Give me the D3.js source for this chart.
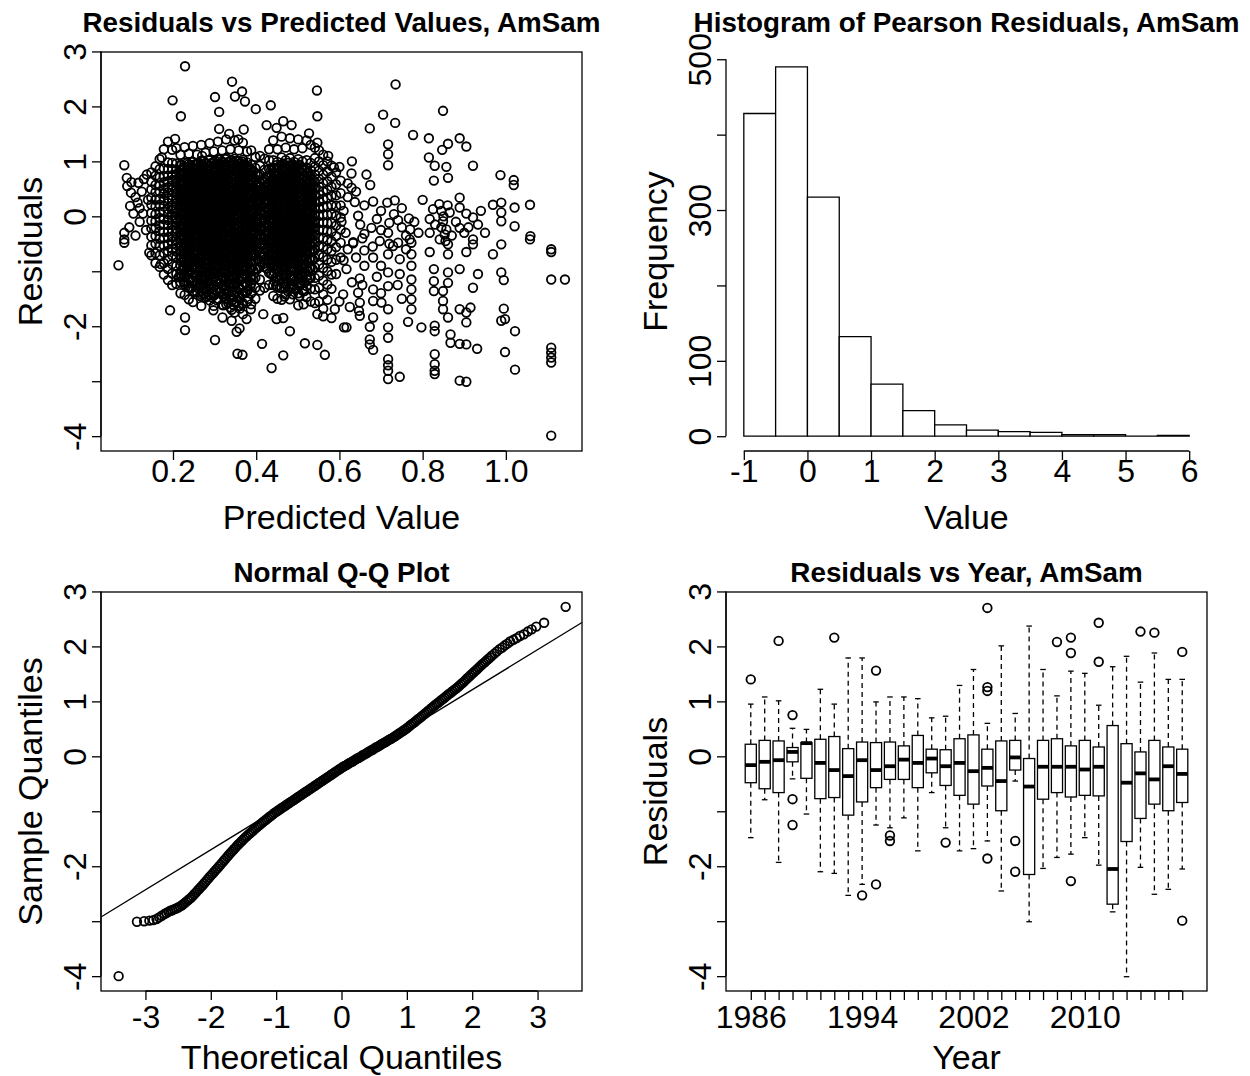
<!DOCTYPE html>
<html><head><meta charset="utf-8">
<script src="https://cdn.jsdelivr.net/npm/d3@7"></script>
<style>body{margin:0;background:#fff}</style>
</head><body>
<svg id="c" width="1250" height="1076" xmlns="http://www.w3.org/2000/svg"></svg>
<script>
// ---------------- DATA ----------------
const residTicks = [-4,-3,-2,-1,0,1,2,3];
const residTickLabels = ["-4","","-2","","0","1","2","3"];
// Panel 1: predicted value vs residual
const predTicks = [0.2,0.4,0.6,0.8,1.0];
const predTickLabels = ["0.2","0.4","0.6","0.8","1.0"];
const sparsePoints = [
[0.229,2.73],[0.342,2.45],[0.199,2.11],[0.301,2.17],[0.349,2.18],[0.366,2.27],[0.373,2.09],[0.399,1.95],[0.435,2.02],[0.546,2.29],[0.547,1.82],[0.219,1.82],[0.311,1.90],[0.311,1.59],[0.335,1.50],[0.370,1.58],[0.357,1.40],[0.425,1.66],[0.449,1.61],[0.465,1.73],[0.485,1.66],[0.527,1.51],[0.547,1.34],[0.205,1.41],[0.083,0.93],[0.089,0.70],[0.099,0.43],[0.097,0.19],[0.083,-0.30],[0.083,-0.42],[0.137,0.76],[0.117,0.61],[0.173,1.07],[0.573,1.10],[0.587,0.89],[0.270,1.10],
[0.069,-0.89],[0.083,-0.48],[0.143,-0.66],[0.171,-0.87],[0.193,-1.71],[0.229,-1.84],[0.229,-2.07],[0.301,-2.25],[0.355,-2.50],[0.367,-2.52],[0.437,-2.76],[0.414,-2.32],[0.465,-2.53],[0.481,-2.09],[0.517,-2.31],[0.547,-2.34],[0.565,-2.52],[0.353,-2.10],[0.360,-2.04],[0.341,-1.90],[0.319,-1.84],[0.297,-1.71],[0.377,-1.87],[0.387,-1.69],[0.417,-1.78],[0.449,-1.87],[0.465,-1.85],[0.514,-1.60],[0.547,-1.78],[0.561,-1.82],[0.581,-1.85],[0.589,-1.69],[0.611,-2.02],[0.281,-1.46],[0.245,-1.30],[0.229,-1.21],[0.213,-1.11],[0.263,-1.27],
[0.09,0.55],[0.10,0.62],[0.11,0.35],[0.095,-0.2],[0.105,0.05],[0.115,0.25],[0.12,-0.1],[0.125,0.45],[0.11,-0.35],[0.13,0.68],[0.128,0.05],[0.135,-0.25],[0.14,0.3],[0.12,0.15],
[0.735,2.40],[0.705,1.85],[0.734,1.70],[0.673,1.60],[0.849,1.92],[0.777,1.48],[0.815,1.42],[0.717,1.31],[0.717,1.13],[0.717,0.93],[0.861,1.32],[0.847,1.21],[0.889,1.42],[0.905,1.27],[0.815,1.07],[0.829,0.92],[0.857,0.90],[0.921,0.92],[0.861,0.70],[0.827,0.65],[0.987,0.75],[1.019,0.66],[1.019,0.57],[1.058,0.21],[0.629,0.78],[0.629,0.52],[0.637,0.26],[0.665,0.76],[0.674,0.57],[0.681,0.27],[0.715,0.25],[0.733,0.29],[0.605,-0.10],[0.645,0.01],[0.677,-0.21],[0.717,-0.30],[0.731,0.04],[0.741,-0.07],[0.767,-0.04],[0.770,-0.24],[0.825,0.13],[0.845,0.10],[0.849,-0.09],[0.817,-0.05],[0.865,0.07],[0.889,0.34],[0.889,0.16],[0.889,-0.21],[0.921,-0.02],[0.933,-0.15],[0.969,0.21],[0.989,0.25],[0.989,0.07],[0.989,-0.09],[1.021,0.16],[1.021,-0.18],[1.059,-0.36],[1.109,-0.60],[0.633,-0.47],[0.697,-0.45],[0.741,-0.48],[0.769,-0.42],[0.817,-0.30],[0.841,-0.42],[0.857,-0.24],[0.921,-0.42],
[0.65,-0.15],[0.66,-0.32],[0.69,-0.05],[0.70,-0.25],[0.655,-0.4],[0.72,-0.12],[0.75,-0.2],[0.76,-0.35],[0.78,-0.1],[0.845,-0.2],[0.85,0.0],[0.853,-0.33],[0.855,-0.45],[0.86,0.2],[0.84,0.22],[0.83,-0.15],[0.87,-0.35],[0.88,-0.1],[0.90,-0.3],[0.905,0.05],[0.91,-0.2],[0.94,0.1],[0.95,-0.3],[0.62,0.35],[0.61,0.1],[0.615,-0.3],[0.64,0.45],[0.66,0.2],[0.70,0.1],[0.75,0.15],[0.80,0.3],[0.79,-0.3],[0.63,1.0],[0.62,0.6],[0.60,0.9],
[0.633,-0.49],[0.681,-0.75],[0.617,-0.96],[0.649,-1.13],[0.717,-0.69],[0.717,-1.02],[0.717,-1.27],[0.681,-1.33],[0.645,-1.39],[0.649,-1.57],[0.681,-1.54],[0.701,-1.57],[0.717,-1.69],[0.649,-1.81],[0.681,-1.84],[0.617,-2.02],[0.673,-2.01],[0.717,-2.02],[0.717,-2.21],[0.673,-2.33],[0.681,-2.43],[0.717,-2.60],[0.717,-2.71],[0.717,-2.81],[0.717,-2.96],[0.745,-2.92],[0.773,-0.48],[0.773,-0.69],[0.773,-0.90],[0.773,-1.15],[0.773,-1.33],[0.773,-1.51],[0.773,-1.69],[0.765,-1.92],[0.797,-2.02],[0.817,-0.65],[0.827,-0.96],[0.827,-1.18],[0.827,-1.36],[0.829,-1.99],[0.829,-2.09],[0.829,-2.51],[0.829,-2.69],[0.829,-2.81],[0.829,-2.87],[0.849,-1.36],[0.849,-1.54],[0.849,-1.69],[0.861,-1.02],[0.861,-1.21],[0.861,-1.84],[0.861,-0.51],[0.889,-0.96],[0.889,-1.69],[0.905,-1.75],[0.905,-1.93],[0.915,-1.66],[0.867,-2.15],[0.867,-2.30],[0.889,-2.32],[0.905,-2.33],[0.931,-2.41],[0.889,-2.99],[0.905,-3.01],[0.921,-1.30],[0.905,-0.65],[0.933,-1.05],[0.969,-0.69],[0.989,-0.51],[0.989,-1.02],[0.995,-1.16],[0.995,-1.68],[0.989,-1.90],[0.998,-1.87],[1.022,-2.09],[0.998,-2.47],[1.022,-2.79],[1.109,-0.65],[1.109,-1.15],[1.142,-1.15],[1.109,-2.39],[1.109,-2.48],[1.109,-2.57],[1.109,-2.66],[1.109,-3.99],[1.058,-0.42],[0.609,-1.42],[0.647,-1.72],[0.673,-2.24],[0.745,-1.05],[0.745,-0.78],[0.729,-0.54],[0.861,-0.69],[0.921,-0.51],
[0.62,-0.6],[0.64,-0.75],[0.66,-0.9],[0.63,-1.2],[0.61,-0.8],[0.69,-1.1],[0.70,-0.9],[0.72,-0.5],[0.68,-0.55],[0.60,-1.55],[0.625,-1.65],[0.655,-1.25],[0.66,-0.62],[0.70,-1.4],[0.74,-1.25],[0.75,-1.5],[0.76,-0.6]
];
// dense part of the cloud, estimated column by column: [predicted, [residuals]]
const denseColumns = [
[0.148,[0.80,0.63,0.49,0.34,0.21,0.06,-0.08,-0.22,-0.37,-0.53,-0.71]],
[0.158,[0.91,0.74,0.57,0.44,0.30,0.18,0.04,-0.09,-0.21,-0.36,-0.50,-0.67,-0.85]],
[0.168,[1.04,0.86,0.71,0.56,0.45,0.32,0.21,0.08,-0.03,-0.16,-0.27,-0.41,-0.54,-0.71,-0.92]],
[0.178,[1.22,0.87,0.73,0.62,0.50,0.41,0.29,0.18,0.08,-0.05,-0.15,-0.28,-0.39,-0.53,-0.67,-0.85,-1.06]],
[0.188,[1.36,0.98,0.86,0.74,0.64,0.53,0.44,0.33,0.24,0.13,0.04,-0.07,-0.16,-0.28,-0.38,-0.51,-0.63,-0.79,-0.96,-1.16]],
[0.198,[1.21,0.97,0.86,0.75,0.66,0.56,0.48,0.38,0.30,0.20,0.12,0.02,-0.06,-0.16,-0.25,-0.36,-0.46,-0.59,-0.71,-0.87,-1.04,-1.25]],
[0.208,[1.24,0.96,0.85,0.77,0.67,0.59,0.49,0.41,0.31,0.23,0.13,0.05,-0.05,-0.13,-0.23,-0.31,-0.42,-0.52,-0.64,-0.75,-0.90,-1.05,-1.23]],
[0.218,[1.12,0.93,0.84,0.74,0.66,0.56,0.48,0.38,0.30,0.20,0.12,0.02,-0.06,-0.16,-0.24,-0.34,-0.43,-0.54,-0.64,-0.77,-0.89,-1.05,-1.20,-1.40]],
[0.228,[1.26,0.98,0.87,0.79,0.69,0.61,0.51,0.43,0.33,0.25,0.15,0.07,-0.03,-0.11,-0.21,-0.29,-0.39,-0.48,-0.59,-0.69,-0.82,-0.94,-1.09,-1.24,-1.43]],
[0.238,[1.14,0.95,0.84,0.76,0.66,0.58,0.48,0.40,0.30,0.22,0.12,0.04,-0.06,-0.14,-0.24,-0.32,-0.42,-0.51,-0.62,-0.72,-0.85,-0.97,-1.13,-1.30,-1.51]],
[0.248,[1.28,0.99,0.88,0.80,0.70,0.62,0.52,0.44,0.34,0.26,0.16,0.08,-0.02,-0.10,-0.20,-0.28,-0.38,-0.46,-0.57,-0.66,-0.78,-0.89,-1.03,-1.17,-1.36,-1.56]],
[0.258,[1.12,0.94,0.84,0.76,0.66,0.58,0.48,0.40,0.30,0.22,0.12,0.04,-0.06,-0.14,-0.24,-0.32,-0.42,-0.50,-0.61,-0.70,-0.82,-0.93,-1.07,-1.21,-1.38]],
[0.268,[1.30,1.01,0.90,0.82,0.72,0.64,0.54,0.46,0.36,0.28,0.18,0.10,0.00,-0.08,-0.18,-0.26,-0.36,-0.44,-0.54,-0.63,-0.74,-0.84,-0.97,-1.09,-1.25,-1.42,-1.63]],
[0.278,[1.16,0.97,0.86,0.78,0.68,0.60,0.50,0.42,0.32,0.24,0.14,0.06,-0.04,-0.12,-0.22,-0.30,-0.40,-0.48,-0.58,-0.67,-0.78,-0.88,-1.01,-1.13,-1.29,-1.48]],
[0.288,[1.33,1.02,0.92,0.83,0.74,0.65,0.56,0.47,0.38,0.29,0.20,0.11,0.02,-0.07,-0.16,-0.25,-0.34,-0.43,-0.52,-0.61,-0.71,-0.81,-0.93,-1.04,-1.18,-1.32,-1.53]],
[0.298,[1.18,0.99,0.88,0.80,0.70,0.62,0.52,0.44,0.34,0.26,0.16,0.08,-0.02,-0.10,-0.20,-0.28,-0.38,-0.46,-0.56,-0.65,-0.76,-0.86,-0.99,-1.11,-1.27,-1.44,-1.63]],
[0.308,[1.36,1.04,0.94,0.84,0.76,0.66,0.58,0.48,0.40,0.30,0.22,0.12,0.04,-0.06,-0.14,-0.24,-0.32,-0.42,-0.50,-0.60,-0.69,-0.80,-0.90,-1.03,-1.15,-1.31,-1.50]],
[0.318,[1.20,1.00,0.89,0.81,0.71,0.63,0.53,0.45,0.35,0.27,0.17,0.09,-0.01,-0.09,-0.19,-0.27,-0.37,-0.45,-0.55,-0.64,-0.75,-0.85,-0.98,-1.10,-1.26,-1.42,-1.61]],
[0.328,[1.40,1.06,0.95,0.86,0.77,0.68,0.59,0.50,0.41,0.32,0.23,0.14,0.05,-0.04,-0.13,-0.22,-0.31,-0.40,-0.49,-0.58,-0.67,-0.77,-0.87,-0.99,-1.11,-1.25,-1.41,-1.60]],
[0.338,[1.22,1.01,0.91,0.82,0.72,0.64,0.54,0.46,0.36,0.28,0.18,0.10,0.00,-0.08,-0.18,-0.26,-0.36,-0.44,-0.54,-0.62,-0.72,-0.81,-0.92,-1.02,-1.15,-1.29,-1.46,-1.66]],
[0.348,[1.38,1.05,0.94,0.85,0.75,0.67,0.57,0.49,0.39,0.31,0.21,0.13,0.03,-0.05,-0.15,-0.23,-0.33,-0.41,-0.51,-0.59,-0.69,-0.78,-0.89,-0.99,-1.11,-1.23,-1.38,-1.56,-1.75]],
[0.358,[1.20,1.00,0.90,0.81,0.71,0.63,0.53,0.45,0.35,0.27,0.17,0.09,-0.01,-0.09,-0.19,-0.27,-0.37,-0.45,-0.55,-0.63,-0.73,-0.82,-0.93,-1.04,-1.16,-1.30,-1.46,-1.63]],
[0.368,[1.34,1.03,0.93,0.84,0.74,0.66,0.56,0.48,0.38,0.30,0.20,0.12,0.02,-0.06,-0.16,-0.24,-0.34,-0.42,-0.52,-0.60,-0.70,-0.79,-0.90,-1.00,-1.12,-1.25,-1.40,-1.58,-1.78]],
[0.378,[1.18,0.98,0.88,0.79,0.69,0.61,0.51,0.43,0.33,0.25,0.15,0.07,-0.03,-0.11,-0.21,-0.29,-0.39,-0.47,-0.57,-0.66,-0.76,-0.86,-0.97,-1.09,-1.22,-1.37,-1.55]],
[0.388,[1.20,0.94,0.84,0.75,0.65,0.57,0.47,0.39,0.29,0.21,0.11,0.03,-0.07,-0.15,-0.25,-0.33,-0.43,-0.52,-0.62,-0.72,-0.83,-0.95,-1.08,-1.22,-1.40,-1.60]],
[0.398,[1.08,0.88,0.77,0.67,0.57,0.48,0.38,0.29,0.19,0.10,0.00,-0.09,-0.19,-0.28,-0.38,-0.48,-0.59,-0.70,-0.82,-0.96,-1.12,-1.30,-1.50]],
[0.409,[1.10,0.92,0.76,0.60,0.45,0.31,0.17,0.03,-0.11,-0.25,-0.40,-0.56,-0.73,-0.92,-1.15,-1.35]],
[0.420,[1.05,0.85,0.68,0.52,0.37,0.22,0.08,-0.06,-0.20,-0.35,-0.51,-0.68,-0.86,-1.30]],
[0.431,[1.22,1.02,0.86,0.72,0.60,0.48,0.37,0.26,0.15,0.04,-0.07,-0.18,-0.30,-0.42,-0.55,-0.69,-0.85,-1.03,-1.25]],
[0.441,[1.38,1.02,0.89,0.79,0.69,0.60,0.50,0.42,0.32,0.24,0.14,0.06,-0.04,-0.12,-0.22,-0.30,-0.40,-0.49,-0.59,-0.69,-0.81,-0.93,-1.08,-1.25,-1.45]],
[0.451,[1.22,0.99,0.88,0.78,0.68,0.59,0.49,0.41,0.31,0.23,0.13,0.05,-0.05,-0.13,-0.23,-0.31,-0.41,-0.50,-0.60,-0.70,-0.82,-0.95,-1.10,-1.28,-1.50]],
[0.461,[1.45,1.07,0.94,0.83,0.73,0.64,0.54,0.46,0.36,0.28,0.18,0.10,0.00,-0.08,-0.18,-0.26,-0.36,-0.44,-0.54,-0.63,-0.74,-0.85,-0.98,-1.12,-1.30,-1.52]],
[0.471,[1.25,1.02,0.90,0.80,0.70,0.61,0.51,0.43,0.33,0.25,0.15,0.07,-0.03,-0.11,-0.21,-0.29,-0.39,-0.48,-0.58,-0.68,-0.80,-0.92,-1.06,-1.22,-1.42]],
[0.481,[1.42,1.06,0.93,0.82,0.72,0.63,0.53,0.45,0.35,0.27,0.17,0.09,-0.01,-0.09,-0.19,-0.27,-0.37,-0.45,-0.55,-0.64,-0.75,-0.86,-0.99,-1.13,-1.31,-1.51]],
[0.491,[1.22,0.99,0.88,0.78,0.68,0.59,0.49,0.41,0.31,0.23,0.13,0.05,-0.05,-0.13,-0.23,-0.31,-0.41,-0.50,-0.60,-0.71,-0.83,-0.97,-1.13,-1.32]],
[0.501,[1.40,1.04,0.92,0.81,0.71,0.62,0.52,0.44,0.34,0.26,0.16,0.08,-0.02,-0.10,-0.20,-0.28,-0.38,-0.47,-0.57,-0.67,-0.79,-0.91,-1.05,-1.21,-1.40,-1.62]],
[0.511,[1.24,1.00,0.88,0.78,0.68,0.58,0.49,0.40,0.31,0.22,0.13,0.04,-0.05,-0.14,-0.23,-0.32,-0.42,-0.52,-0.63,-0.74,-0.87,-1.01,-1.17,-1.35]],
[0.521,[1.38,1.02,0.89,0.78,0.67,0.57,0.47,0.37,0.27,0.17,0.07,-0.03,-0.13,-0.23,-0.33,-0.43,-0.54,-0.66,-0.79,-0.93,-1.09,-1.27,-1.47]],
[0.531,[1.30,0.97,0.84,0.72,0.61,0.50,0.39,0.28,0.17,0.06,-0.05,-0.16,-0.27,-0.39,-0.51,-0.64,-0.78,-0.94,-1.12,-1.32,-1.55]],
[0.541,[1.25,1.06,0.90,0.76,0.63,0.51,0.39,0.27,0.15,0.03,-0.09,-0.21,-0.34,-0.47,-0.61,-0.76,-0.93,-1.12,-1.33,-1.58]],
[0.551,[1.20,1.00,0.83,0.68,0.54,0.40,0.27,0.14,0.01,-0.12,-0.25,-0.39,-0.54,-0.70,-0.88,-1.08,-1.30,-1.55]],
[0.561,[1.12,0.93,0.76,0.60,0.45,0.31,0.17,0.03,-0.11,-0.25,-0.40,-0.56,-0.74,-0.94,-1.17,-1.42,-1.68]],
[0.571,[1.00,0.82,0.64,0.48,0.33,0.18,0.03,-0.12,-0.27,-0.43,-0.60,-0.79,-1.00,-1.24,-1.52]],
[0.581,[0.92,0.72,0.54,0.37,0.20,0.04,-0.12,-0.28,-0.45,-0.63,-0.83,-1.06,-1.32]],
[0.592,[0.80,0.58,0.38,0.19,0.01,-0.17,-0.36,-0.56,-0.79,-1.05]],
[0.603,[0.65,0.42,0.20,-0.02,-0.24,-0.48,-0.75]]
];
// the two solid-black cores, estimated between the columns above
const coreColumns = [
[0.221,[0.94,0.83,0.76,0.64,0.57,0.45,0.37,0.26,0.18,0.06,-0.02,-0.13,-0.21,-0.33,-0.40,-0.52,-0.61,-0.74,-0.83,-0.98,-1.10]],
[0.226,[0.90,0.79,0.70,0.60,0.49,0.41,0.30,0.22,0.10,0.02,-0.09,-0.17,-0.28,-0.36,-0.47,-0.56,-0.67,-0.78,-0.91,-1.04,-1.19]],
[0.234,[0.97,0.86,0.79,0.67,0.60,0.48,0.40,0.29,0.21,0.09,0.01,-0.11,-0.18,-0.30,-0.37,-0.49,-0.57,-0.70,-0.79,-0.93,-1.05,-1.22]],
[0.241,[0.92,0.81,0.72,0.63,0.52,0.43,0.33,0.24,0.13,0.04,-0.07,-0.15,-0.26,-0.34,-0.45,-0.53,-0.64,-0.75,-0.87,-1.00,-1.16,-1.30]],
[0.246,[0.99,0.88,0.80,0.69,0.61,0.50,0.42,0.31,0.23,0.12,0.03,-0.08,-0.16,-0.27,-0.35,-0.46,-0.55,-0.66,-0.77,-0.90,-1.03,-1.19]],
[0.253,[0.95,0.84,0.75,0.66,0.55,0.46,0.36,0.27,0.16,0.07,-0.04,-0.12,-0.23,-0.31,-0.42,-0.50,-0.61,-0.71,-0.83,-0.95,-1.09,-1.25,-1.38]],
[0.261,[0.98,0.87,0.78,0.70,0.59,0.51,0.40,0.32,0.21,0.13,0.01,-0.07,-0.18,-0.26,-0.37,-0.45,-0.56,-0.64,-0.76,-0.87,-1.01,-1.15,-1.31]],
[0.266,[0.93,0.82,0.73,0.62,0.54,0.44,0.35,0.25,0.15,0.06,-0.05,-0.13,-0.24,-0.32,-0.43,-0.51,-0.62,-0.72,-0.84,-0.97,-1.11,-1.27,-1.45]],
[0.273,[1.00,0.89,0.81,0.71,0.62,0.52,0.43,0.34,0.24,0.15,0.04,-0.04,-0.15,-0.23,-0.34,-0.42,-0.53,-0.61,-0.73,-0.84,-0.97,-1.10,-1.24,-1.40]],
[0.281,[0.96,0.85,0.76,0.65,0.57,0.47,0.38,0.28,0.19,0.08,0.00,-0.11,-0.19,-0.30,-0.38,-0.49,-0.57,-0.68,-0.79,-0.92,-1.06,-1.21,-1.37]],
[0.286,[1.02,0.91,0.82,0.72,0.64,0.53,0.45,0.35,0.26,0.16,0.07,-0.03,-0.12,-0.22,-0.31,-0.41,-0.50,-0.60,-0.70,-0.82,-0.95,-1.08,-1.25,-1.43]],
[0.293,[0.97,0.86,0.77,0.68,0.58,0.49,0.39,0.30,0.20,0.11,0.01,-0.08,-0.18,-0.27,-0.37,-0.46,-0.56,-0.65,-0.76,-0.87,-1.00,-1.14,-1.30,-1.47]],
[0.301,[1.01,0.90,0.81,0.70,0.62,0.51,0.43,0.32,0.24,0.13,0.05,-0.06,-0.14,-0.25,-0.33,-0.44,-0.52,-0.63,-0.72,-0.84,-0.96,-1.10,-1.26,-1.42]],
[0.306,[0.95,0.84,0.74,0.65,0.55,0.46,0.36,0.27,0.17,0.08,-0.02,-0.11,-0.21,-0.30,-0.40,-0.49,-0.59,-0.68,-0.79,-0.91,-1.04,-1.19,-1.35,-1.53]],
[0.313,[1.03,0.92,0.83,0.73,0.64,0.54,0.45,0.35,0.26,0.16,0.07,-0.03,-0.12,-0.22,-0.31,-0.41,-0.50,-0.60,-0.69,-0.80,-0.92,-1.06,-1.21,-1.38]],
[0.321,[0.98,0.87,0.78,0.67,0.59,0.48,0.40,0.29,0.21,0.10,0.02,-0.09,-0.17,-0.28,-0.36,-0.47,-0.55,-0.66,-0.75,-0.87,-0.99,-1.13,-1.28,-1.45,-1.62]],
[0.326,[1.04,0.93,0.84,0.74,0.65,0.55,0.46,0.36,0.27,0.17,0.08,-0.02,-0.11,-0.21,-0.30,-0.40,-0.49,-0.59,-0.68,-0.79,-0.90,-1.03,-1.17,-1.33,-1.50]],
[0.333,[0.99,0.88,0.79,0.69,0.60,0.50,0.41,0.31,0.22,0.12,0.03,-0.07,-0.16,-0.26,-0.35,-0.45,-0.54,-0.64,-0.74,-0.85,-0.97,-1.10,-1.24,-1.40,-1.58]],
[0.341,[1.02,0.91,0.82,0.71,0.63,0.52,0.44,0.33,0.25,0.14,0.06,-0.05,-0.13,-0.24,-0.32,-0.43,-0.51,-0.62,-0.71,-0.82,-0.94,-1.07,-1.21,-1.36,-1.53,-1.70]],
[0.346,[0.97,0.86,0.76,0.67,0.57,0.48,0.38,0.29,0.19,0.10,0.00,-0.09,-0.19,-0.28,-0.38,-0.47,-0.57,-0.66,-0.76,-0.88,-1.00,-1.14,-1.29,-1.45,-1.62]],
[0.353,[1.01,0.90,0.81,0.71,0.62,0.52,0.43,0.33,0.24,0.14,0.05,-0.05,-0.14,-0.24,-0.33,-0.43,-0.52,-0.62,-0.71,-0.82,-0.94,-1.07,-1.21,-1.37,-1.55]],
[0.361,[0.96,0.85,0.76,0.65,0.57,0.46,0.38,0.27,0.19,0.08,0.00,-0.11,-0.19,-0.30,-0.38,-0.49,-0.57,-0.68,-0.77,-0.89,-1.02,-1.16,-1.32,-1.49,-1.68]],
[0.366,[1.00,0.89,0.80,0.70,0.61,0.51,0.42,0.32,0.23,0.13,0.04,-0.06,-0.15,-0.25,-0.34,-0.44,-0.53,-0.63,-0.73,-0.84,-0.96,-1.09,-1.24,-1.41,-1.60]],
[0.373,[0.94,0.83,0.74,0.64,0.55,0.45,0.36,0.26,0.17,0.07,-0.02,-0.12,-0.21,-0.31,-0.40,-0.50,-0.59,-0.70,-0.81,-0.93,-1.07,-1.22,-1.39]],
[0.381,[0.91,0.80,0.71,0.60,0.52,0.41,0.33,0.22,0.14,0.03,-0.05,-0.16,-0.24,-0.35,-0.43,-0.54,-0.63,-0.75,-0.87,-1.01,-1.16,-1.33,-1.50]],
[0.386,[0.86,0.76,0.67,0.57,0.48,0.38,0.29,0.19,0.10,0.00,-0.09,-0.19,-0.28,-0.38,-0.47,-0.58,-0.69,-0.82,-0.96,-1.12,-1.28]],
[0.393,[0.82,0.71,0.62,0.52,0.43,0.33,0.24,0.14,0.05,-0.05,-0.14,-0.24,-0.33,-0.44,-0.55,-0.68,-0.82,-0.98,-1.15]],
[0.403,[0.74,0.60,0.48,0.36,0.24,0.12,0.01,-0.11,-0.23,-0.35,-0.48,-0.62,-0.78,-0.96]],
[0.409,[0.55,0.40,0.25,0.10,-0.05,-0.20,-0.35,-0.50,-0.66,-0.82]],
[0.414,[0.66,0.50,0.35,0.20,0.06,-0.08,-0.22,-0.37,-0.53,-0.70]],
[0.419,[0.62,0.45,0.30,0.16,0.02,-0.12,-0.27,-0.42,-0.58,-0.74,-0.92]],
[0.425,[0.72,0.57,0.42,0.28,0.14,0.00,-0.14,-0.28,-0.43,-0.59,-0.76,-0.95]],
[0.436,[0.85,0.73,0.62,0.51,0.40,0.30,0.19,0.09,-0.02,-0.12,-0.23,-0.34,-0.46,-0.58,-0.72,-0.88,-1.05]],
[0.444,[0.88,0.77,0.69,0.58,0.50,0.39,0.31,0.20,0.12,0.01,-0.07,-0.18,-0.26,-0.37,-0.45,-0.56,-0.65,-0.77,-0.88,-1.02,-1.18]],
[0.448,[0.93,0.83,0.73,0.64,0.54,0.45,0.35,0.26,0.16,0.07,-0.03,-0.12,-0.22,-0.31,-0.41,-0.50,-0.60,-0.71,-0.83,-0.96,-1.11,-1.27]],
[0.456,[0.90,0.79,0.70,0.60,0.51,0.41,0.32,0.22,0.13,0.03,-0.06,-0.16,-0.25,-0.35,-0.44,-0.54,-0.63,-0.74,-0.86,-0.99,-1.14,-1.30]],
[0.464,[0.96,0.85,0.76,0.65,0.57,0.46,0.38,0.27,0.19,0.08,0.00,-0.11,-0.19,-0.30,-0.38,-0.49,-0.57,-0.68,-0.79,-0.92,-1.06,-1.22]],
[0.468,[0.91,0.81,0.72,0.62,0.53,0.43,0.34,0.24,0.15,0.05,-0.04,-0.14,-0.23,-0.33,-0.42,-0.52,-0.61,-0.72,-0.84,-0.97,-1.12,-1.29,-1.46]],
[0.476,[0.97,0.86,0.77,0.67,0.58,0.48,0.39,0.29,0.20,0.10,0.01,-0.09,-0.18,-0.28,-0.37,-0.47,-0.56,-0.66,-0.77,-0.90,-1.04,-1.19,-1.36]],
[0.484,[0.92,0.81,0.72,0.61,0.53,0.42,0.34,0.23,0.15,0.04,-0.04,-0.15,-0.23,-0.34,-0.42,-0.53,-0.62,-0.73,-0.85,-0.98,-1.13,-1.29]],
[0.488,[0.95,0.85,0.75,0.66,0.56,0.47,0.37,0.28,0.18,0.09,-0.01,-0.10,-0.20,-0.29,-0.39,-0.48,-0.58,-0.69,-0.81,-0.94,-1.08,-1.24,-1.42]],
[0.496,[0.90,0.79,0.70,0.60,0.51,0.41,0.32,0.22,0.13,0.03,-0.06,-0.16,-0.25,-0.35,-0.44,-0.54,-0.64,-0.75,-0.87,-1.01,-1.16,-1.33]],
[0.504,[0.94,0.83,0.74,0.63,0.55,0.44,0.36,0.25,0.17,0.06,-0.02,-0.13,-0.21,-0.32,-0.40,-0.51,-0.60,-0.71,-0.83,-0.96,-1.11,-1.27,-1.45]],
[0.508,[0.88,0.78,0.68,0.59,0.49,0.40,0.30,0.21,0.11,0.02,-0.08,-0.17,-0.27,-0.36,-0.46,-0.56,-0.67,-0.79,-0.92,-1.07,-1.23]],
[0.516,[0.84,0.73,0.64,0.54,0.45,0.35,0.26,0.16,0.07,-0.03,-0.12,-0.22,-0.31,-0.41,-0.51,-0.62,-0.74,-0.87,-1.02,-1.18,-1.36]],
[0.524,[0.80,0.69,0.60,0.49,0.41,0.30,0.22,0.11,0.03,-0.08,-0.16,-0.27,-0.36,-0.47,-0.58,-0.70,-0.84,-0.99,-1.16]],
[0.528,[0.74,0.63,0.53,0.43,0.33,0.23,0.13,0.03,-0.07,-0.17,-0.27,-0.38,-0.50,-0.63,-0.78,-0.94,-1.12]],
[0.536,[0.66,0.54,0.43,0.32,0.21,0.10,-0.01,-0.12,-0.23,-0.35,-0.48,-0.62,-0.78,-0.96]]
];
// Panel 2: histogram of Pearson residuals
const histBreaks = [-1,-0.5,0,0.5,1,1.5,2,2.5,3,3.5,4,4.5,5,5.5,6];
const histCounts = [428,490,317,132,69,34,15,8,6,5,2,2,0,1];
const histXTicks = [-1,0,1,2,3,4,5,6];
const histYTicks = [0,100,200,300,400,500];
const histYTickLabels = ["0","100","","300","","500"];
// Panel 3: normal Q-Q plot (theoretical quantile, sample quantile)
const qqTicks = [-3,-2,-1,0,1,2,3];
const qqTheoretical = [-3.41,-3.13,-3.02,-2.94,-2.88,-2.83,-2.79,-2.75,-2.71,-2.68,-2.65,-2.62,-2.59,-2.56,-2.53,-2.50,-2.47,-2.44,-2.42,
-2.400,-2.375,-2.350,-2.325,-2.300,-2.275,-2.250,-2.225,-2.200,-2.175,-2.150,-2.125,-2.100,-2.075,-2.050,-2.025,-2.000,-1.975,-1.950,-1.925,-1.900,-1.875,-1.850,-1.825,-1.800,-1.775,-1.750,-1.725,-1.700,-1.675,-1.650,-1.625,-1.600,-1.575,-1.550,-1.525,-1.500,-1.475,-1.450,-1.425,-1.400,-1.375,-1.350,-1.325,-1.300,-1.275,-1.250,-1.225,-1.200,-1.175,-1.150,-1.125,-1.100,-1.075,-1.050,-1.025,-1.000,-0.975,-0.950,-0.925,-0.900,-0.875,-0.850,-0.825,-0.800,-0.775,-0.750,-0.725,-0.700,-0.675,-0.650,-0.625,-0.600,-0.575,-0.550,-0.525,-0.500,-0.475,-0.450,-0.425,-0.400,-0.375,-0.350,-0.325,-0.300,-0.275,-0.250,-0.225,-0.200,-0.175,-0.150,-0.125,-0.100,-0.075,-0.050,-0.025,0.000,0.025,0.050,0.075,0.100,0.125,0.150,0.175,0.200,0.225,0.250,0.275,0.300,0.325,0.350,0.375,0.400,0.425,0.450,0.475,0.500,0.525,0.550,0.575,0.600,0.625,0.650,0.675,0.700,0.725,0.750,0.775,0.800,0.825,0.850,0.875,0.900,0.925,0.950,0.975,1.000,1.025,1.050,1.075,1.100,1.125,1.150,1.175,1.200,1.225,1.250,1.275,1.300,1.325,1.350,1.375,1.400,1.425,1.450,1.475,1.500,1.525,1.550,1.575,1.600,1.625,1.650,1.675,1.700,1.725,1.750,1.775,1.800,1.825,1.850,1.875,1.900,1.925,1.950,1.975,2.000,2.025,2.050,2.075,2.100,2.125,2.150,2.175,2.200,2.225,2.250,2.275,2.300,
2.34,2.38,2.42,2.46,2.50,2.54,2.58,2.63,2.68,2.73,2.79,2.85,2.91,2.98,3.10,3.43];
const qqSample = [-4.00,-3.01,-3.00,-2.99,-2.98,-2.96,-2.93,-2.90,-2.87,-2.85,-2.83,-2.81,-2.80,-2.78,-2.77,-2.75,-2.73,-2.71,-2.69,
-2.67,-2.645,-2.62,-2.595,-2.57,-2.54,-2.505,-2.475,-2.44,-2.41,-2.375,-2.345,-2.31,-2.275,-2.24,-2.205,-2.17,-2.14,-2.105,-2.07,-2.04,-2.005,-1.97,-1.935,-1.90,-1.865,-1.83,-1.795,-1.76,-1.73,-1.695,-1.665,-1.63,-1.60,-1.57,-1.54,-1.51,-1.48,-1.455,-1.425,-1.40,-1.375,-1.35,-1.32,-1.295,-1.27,-1.245,-1.22,-1.195,-1.17,-1.15,-1.125,-1.10,-1.08,-1.055,-1.03,-1.01,-0.99,-0.97,-0.95,-0.93,-0.91,-0.89,-0.87,-0.85,-0.83,-0.81,-0.79,-0.77,-0.75,-0.73,-0.71,-0.69,-0.67,-0.65,-0.63,-0.61,-0.59,-0.57,-0.55,-0.53,-0.51,-0.49,-0.47,-0.45,-0.43,-0.41,-0.39,-0.37,-0.35,-0.33,-0.31,-0.29,-0.27,-0.25,-0.23,-0.21,-0.19,-0.175,-0.16,-0.14,-0.12,-0.105,-0.09,-0.07,-0.05,-0.035,-0.02,0.00,0.02,0.035,0.05,0.07,0.09,0.105,0.12,0.14,0.16,0.175,0.19,0.21,0.23,0.245,0.26,0.28,0.30,0.315,0.33,0.35,0.37,0.39,0.41,0.43,0.45,0.47,0.49,0.51,0.535,0.56,0.585,0.605,0.63,0.655,0.68,0.70,0.725,0.75,0.775,0.80,0.825,0.85,0.875,0.90,0.925,0.95,0.97,0.995,1.02,1.04,1.065,1.09,1.115,1.14,1.16,1.185,1.21,1.23,1.255,1.28,1.31,1.335,1.36,1.39,1.42,1.445,1.475,1.505,1.53,1.56,1.585,1.615,1.64,1.67,1.695,1.72,1.75,1.775,1.80,1.83,
1.87,1.91,1.95,1.98,2.02,2.05,2.09,2.12,2.15,2.19,2.22,2.27,2.31,2.36,2.43,2.72];
const qqLineIntercept = -0.245;
const qqLineSlope = 0.728;
// Panel 4: residuals by year (boxplot statistics)
const years = [1986,1987,1988,1989,1990,1991,1992,1993,1994,1995,1996,1997,1998,1999,2000,2001,2002,2003,2004,2005,2006,2007,2008,2009,2010,2011,2012,2013,2014,2015,2016,2017];
const yearTickLabels = ["1986","1994","2002","2010"];
const boxLowerWhisker = [-1.48,-0.79,-1.93,-0.41,-1.05,-2.10,-2.13,-2.53,-2.33,-1.25,-1.30,-1.12,-1.72,-0.66,-1.30,-1.72,-1.68,-1.54,-2.45,-0.45,-3.01,-2.04,-1.84,-1.78,-1.48,-1.98,-2.83,-4.01,-2.02,-2.51,-2.42,-2.05];
const boxQ1 = [-0.48,-0.59,-0.66,-0.10,-0.40,-0.77,-0.75,-1.07,-0.83,-0.57,-0.42,-0.42,-0.57,-0.30,-0.53,-0.71,-0.87,-0.54,-0.99,-0.25,-2.15,-0.78,-0.66,-0.74,-0.71,-0.72,-2.69,-1.55,-1.13,-0.87,-0.99,-0.84];
const boxMedian = [-0.16,-0.10,-0.07,0.08,0.24,-0.12,-0.25,-0.36,-0.07,-0.25,-0.18,-0.06,-0.12,-0.04,-0.18,-0.12,-0.27,-0.21,-0.45,-0.02,-0.55,-0.19,-0.19,-0.19,-0.24,-0.19,-2.05,-0.48,-0.31,-0.42,-0.18,-0.32];
const boxQ3 = [0.22,0.29,0.28,0.16,0.25,0.31,0.36,0.14,0.26,0.25,0.26,0.19,0.38,0.13,0.12,0.32,0.39,0.13,0.28,0.29,-0.04,0.29,0.32,0.19,0.29,0.17,0.56,0.23,0.08,0.29,0.17,0.13];
const boxUpperWhisker = [0.95,1.08,1.01,0.51,0.49,1.22,0.95,1.79,1.79,0.99,1.08,1.08,1.05,0.70,0.73,1.29,1.58,0.60,2.01,0.78,2.37,1.58,1.10,1.55,1.51,0.93,1.63,1.82,1.35,1.88,1.40,1.40];
const boxOutliers = [[1.40],[],[2.10],[0.75,-0.78,-1.25],[],[],[2.16],[],[-2.53],[1.56,-2.33],[-1.44,-1.54],[],[],[],[-1.57],[],[],[2.70,1.26,1.19,-1.86],[],[-1.54,-2.10],[],[],[2.08],[2.16,1.88,-2.27],[],[2.43,1.72],[],[],[2.27],[2.25],[],[1.90,-2.99]];

// ---------------- DRAWING ----------------
const FONT = "'Liberation Sans', Arial, Helvetica, sans-serif";
const TICK_FS = 32, LAB_FS = 34, TITLE_FS = 27.8;
const SW = 1.3, RING_SW = 1.8, R = 4.3;
const svg = d3.select("#c");
svg.append("rect").attr("width",1250).attr("height",1076).attr("fill","#fff");

const PL = 101, PRt = 582, PT = 52, PB = 451;
const panels = {tl:[0,0], tr:[625,0], bl:[0,540], br:[625,540]};

function styleAxis(g){
  g.attr("font-family", FONT).attr("font-size", TICK_FS);
  g.select(".domain").remove();
  g.selectAll(".tick line").attr("stroke","#000").attr("stroke-width",SW);
  g.selectAll(".tick text").attr("fill","#000");
}
function bottomAxis(scale, ticks, fmt, y, labelY){
  const g = svg.append("g").attr("transform",`translate(0,${y})`)
    .call(d3.axisBottom(scale).tickValues(ticks).tickSize(9).tickFormat(fmt));
  styleAxis(g);
  g.selectAll(".tick text").attr("y",labelY).attr("dy",null);
  g.append("line").attr("x1",scale(ticks[0])).attr("x2",scale(ticks[ticks.length-1]))
    .attr("stroke","#000").attr("stroke-width",SW);
}
function leftAxis(scale, ticks, fmt, x){
  const g = svg.append("g").attr("transform",`translate(${x},0)`)
    .call(d3.axisLeft(scale).tickValues(ticks).tickSize(9).tickFormat(fmt));
  styleAxis(g);
  g.selectAll(".tick text").attr("x",0).attr("y",0).attr("dy",null)
    .attr("text-anchor","middle").attr("transform","translate(-15,0) rotate(-90)");
  g.append("line").attr("y1",scale(ticks[0])).attr("y2",scale(ticks[ticks.length-1]))
    .attr("stroke","#000").attr("stroke-width",SW);
}
function frame(ox, oy){
  svg.append("rect").attr("x",ox+PL).attr("y",oy+PT).attr("width",PRt-PL).attr("height",PB-PT)
    .attr("fill","none").attr("stroke","#000").attr("stroke-width",SW);
}
function titles(ox, oy, main, xlab, ylab, titleY){
  svg.append("text").attr("x",ox+(PL+PRt)/2).attr("y",titleY).attr("text-anchor","middle")
    .attr("font-family",FONT).attr("font-weight","bold").attr("font-size",TITLE_FS).text(main);
  svg.append("text").attr("x",ox+(PL+PRt)/2).attr("y",oy+529).attr("text-anchor","middle")
    .attr("font-family",FONT).attr("font-size",LAB_FS).text(xlab);
  svg.append("text").attr("transform",`translate(${ox+42},${oy+(PT+PB)/2}) rotate(-90)`)
    .attr("text-anchor","middle").attr("font-family",FONT).attr("font-size",LAB_FS).text(ylab);
}
function ringLayer(){ return svg.append("g").attr("fill","none").attr("stroke","#000").attr("stroke-width",RING_SW); }
const residFmt = d => residTickLabels[residTicks.indexOf(d)];

// ---- Panel 1 ----
{
  const [ox, oy] = panels.tl;
  const x = d3.scaleLinear().domain([0.027,1.183]).range([ox+PL, ox+PRt]);
  const y = d3.scaleLinear().domain([-4.27,2.99]).range([oy+PB, oy+PT]);
  const cols = denseColumns.concat(coreColumns);
  const pts = sparsePoints.concat(cols.flatMap(([px, ys]) => ys.map(v => [px, v])));
  ringLayer().selectAll("circle").data(pts).join("circle")
    .attr("cx", d => x(d[0])).attr("cy", d => y(d[1])).attr("r", R);
  frame(ox, oy);
  bottomAxis(x, predTicks, d => predTickLabels[predTicks.indexOf(d)], oy+PB, 31);
  leftAxis(y, residTicks, residFmt, ox+PL);
  titles(ox, oy, "Residuals vs Predicted Values, AmSam", "Predicted Value", "Residuals", 32);
}
// ---- Panel 2 ----
{
  const [ox, oy] = panels.tr;
  const x = d3.scaleLinear().domain([-1.28,6.28]).range([ox+PL, ox+PRt]);
  const y = d3.scaleLinear().domain([-19.6,509.6]).range([oy+PB, oy+PT]);
  const bins = histCounts.map((c,i) => ({x0:histBreaks[i], x1:histBreaks[i+1], c}));
  svg.append("g").selectAll("path").data(bins).join("path")
    .attr("d", d => `M${x(d.x0)},${y(0)}V${y(d.c)}H${x(d.x1)}V${y(0)}Z`)
    .attr("fill","#fff").attr("stroke","#000").attr("stroke-width",SW);
  bottomAxis(x, histXTicks, d => String(d), oy+PB, 31);
  leftAxis(y, histYTicks, d => histYTickLabels[histYTicks.indexOf(d)], ox+PL);
  titles(ox, oy, "Histogram of Pearson Residuals, AmSam", "Value", "Frequency", 32);
}
// ---- Panel 3 ----
{
  const [ox, oy] = panels.bl;
  const x = d3.scaleLinear().domain([-3.68,3.68]).range([ox+PL, ox+PRt]);
  const y = d3.scaleLinear().domain([-4.27,2.99]).range([oy+PB, oy+PT]);
  ringLayer().selectAll("circle").data(qqTheoretical.map((t,i)=>[t,qqSample[i]])).join("circle")
    .attr("cx", d => x(d[0])).attr("cy", d => y(d[1])).attr("r", R);
  const [xa, xb] = x.domain();
  svg.append("line").attr("x1",x(xa)).attr("y1",y(qqLineIntercept+qqLineSlope*xa))
    .attr("x2",x(xb)).attr("y2",y(qqLineIntercept+qqLineSlope*xb))
    .attr("stroke","#000").attr("stroke-width",SW);
  frame(ox, oy);
  bottomAxis(x, qqTicks, d => String(d), oy+PB, 37);
  leftAxis(y, residTicks, residFmt, ox+PL);
  titles(ox, oy, "Normal Q-Q Plot", "Theoretical Quantiles", "Sample Quantiles", 582);
}
// ---- Panel 4 ----
{
  const [ox, oy] = panels.br;
  const idx = years.map((d,i)=>i+1);
  const x = d3.scaleLinear().domain([-0.78,33.78]).range([ox+PL, ox+PRt]);
  const y = d3.scaleLinear().domain([-4.27,2.99]).range([oy+PB, oy+PT]);
  const bw = x(0.4)-x(0);
  const g = svg.append("g").attr("stroke","#000").attr("stroke-width",SW);
  idx.forEach((k,i) => {
    const cx = x(k);
    g.append("line").attr("x1",cx).attr("x2",cx).attr("y1",y(boxQ3[i])).attr("y2",y(boxUpperWhisker[i])).attr("stroke-dasharray","5,4");
    g.append("line").attr("x1",cx).attr("x2",cx).attr("y1",y(boxQ1[i])).attr("y2",y(boxLowerWhisker[i])).attr("stroke-dasharray","5,4");
    g.append("line").attr("x1",cx-bw/2).attr("x2",cx+bw/2).attr("y1",y(boxUpperWhisker[i])).attr("y2",y(boxUpperWhisker[i]));
    g.append("line").attr("x1",cx-bw/2).attr("x2",cx+bw/2).attr("y1",y(boxLowerWhisker[i])).attr("y2",y(boxLowerWhisker[i]));
    g.append("rect").attr("x",cx-bw).attr("width",2*bw).attr("y",y(boxQ3[i])).attr("height",y(boxQ1[i])-y(boxQ3[i])).attr("fill","#fff");
    g.append("line").attr("x1",cx-bw).attr("x2",cx+bw).attr("y1",y(boxMedian[i])).attr("y2",y(boxMedian[i])).attr("stroke-width",3.8);
    boxOutliers[i].forEach(v => g.append("circle").attr("cx",cx).attr("cy",y(v)).attr("r",R).attr("fill","none").attr("stroke-width",RING_SW));
  });
  frame(ox, oy);
  bottomAxis(x, idx, d => { const s = String(years[d-1]); return yearTickLabels.includes(s) ? s : ""; }, oy+PB, 37);
  leftAxis(y, residTicks, residFmt, ox+PL);
  titles(ox, oy, "Residuals vs Year, AmSam", "Year", "Residuals", 582);
}
</script>
</body></html>
